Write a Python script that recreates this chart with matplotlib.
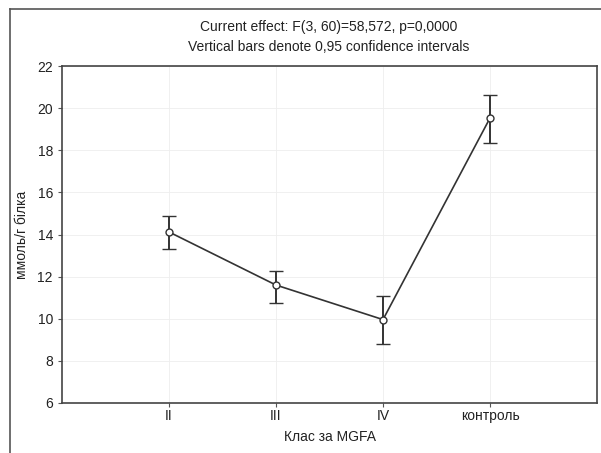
import matplotlib
matplotlib.use("Agg")
import matplotlib.pyplot as plt
from matplotlib.lines import Line2D
import numpy as np

groups = ["II", "III", "IV", "контроль"]
means = [14.12, 11.60, 9.96, 19.53]
ci_low = [13.33, 10.77, 8.80, 18.34]
ci_high = [14.88, 12.28, 11.08, 20.61]

title_lines = ["Current effect: F(3, 60)=58,572, p=0,0000",
               "Vertical bars denote 0,95 confidence intervals"]

plt.rcParams["font.family"] = ["Liberation Sans", "DejaVu Sans"]

fig = plt.figure(figsize=(6.01, 4.53), dpi=100)
ax = fig.add_axes([62 / 601, 1 - 403 / 453, (597 - 62) / 601, (403 - 66) / 453])

x = np.arange(1, len(groups) + 1)
m = np.array(means)
yerr = np.vstack([m - np.array(ci_low), np.array(ci_high) - m])
col = "#333333"
ax.errorbar(x, m, yerr=yerr, color=col, lw=1.2, elinewidth=1.4, capsize=5,
            capthick=1.4, marker="o", ms=5, mfc="white", mec=col, mew=1.0)

ax.set_xlim(0, 5)
ax.set_ylim(6, 22)
ax.set_xticks(x)
ax.set_xticklabels(groups)
ax.set_yticks(np.arange(6, 23, 2))
ax.tick_params(labelsize=10, length=3, width=0.8, color="#555555", labelcolor="#222222")
ax.tick_params(axis="x", pad=1.5)
ax.grid(True, color="#eeeeee", lw=0.6)
ax.set_axisbelow(True)
for s in ax.spines.values():
    s.set_color("#444444")
    s.set_linewidth(1.2)

ax.set_ylabel("ммоль/г білка", fontsize=10, color="#222222")
ax.set_xlabel("Клас за MGFA", fontsize=10, color="#222222")
ax.yaxis.set_label_coords(-0.075, 0.5)
ax.xaxis.set_label_coords(0.5, -0.101)
ax.xaxis.label.set_va("center")
ax.yaxis.label.set_va("center")

fig.text(329 / 601, 1 - 27 / 453, title_lines[0], ha="center", va="center", fontsize=10, color="#222222")
fig.text(329 / 601, 1 - 47 / 453, title_lines[1], ha="center", va="center", fontsize=10, color="#222222")

# outer frame (left and top)
fig.add_artist(Line2D([10 / 601, 10 / 601], [0, 1 - 9 / 453], transform=fig.transFigure, color="#555555", lw=1.2))
fig.add_artist(Line2D([10 / 601, 1], [1 - 9 / 453, 1 - 9 / 453], transform=fig.transFigure, color="#555555", lw=1.2))

fig.savefig("out.png", dpi=100)
